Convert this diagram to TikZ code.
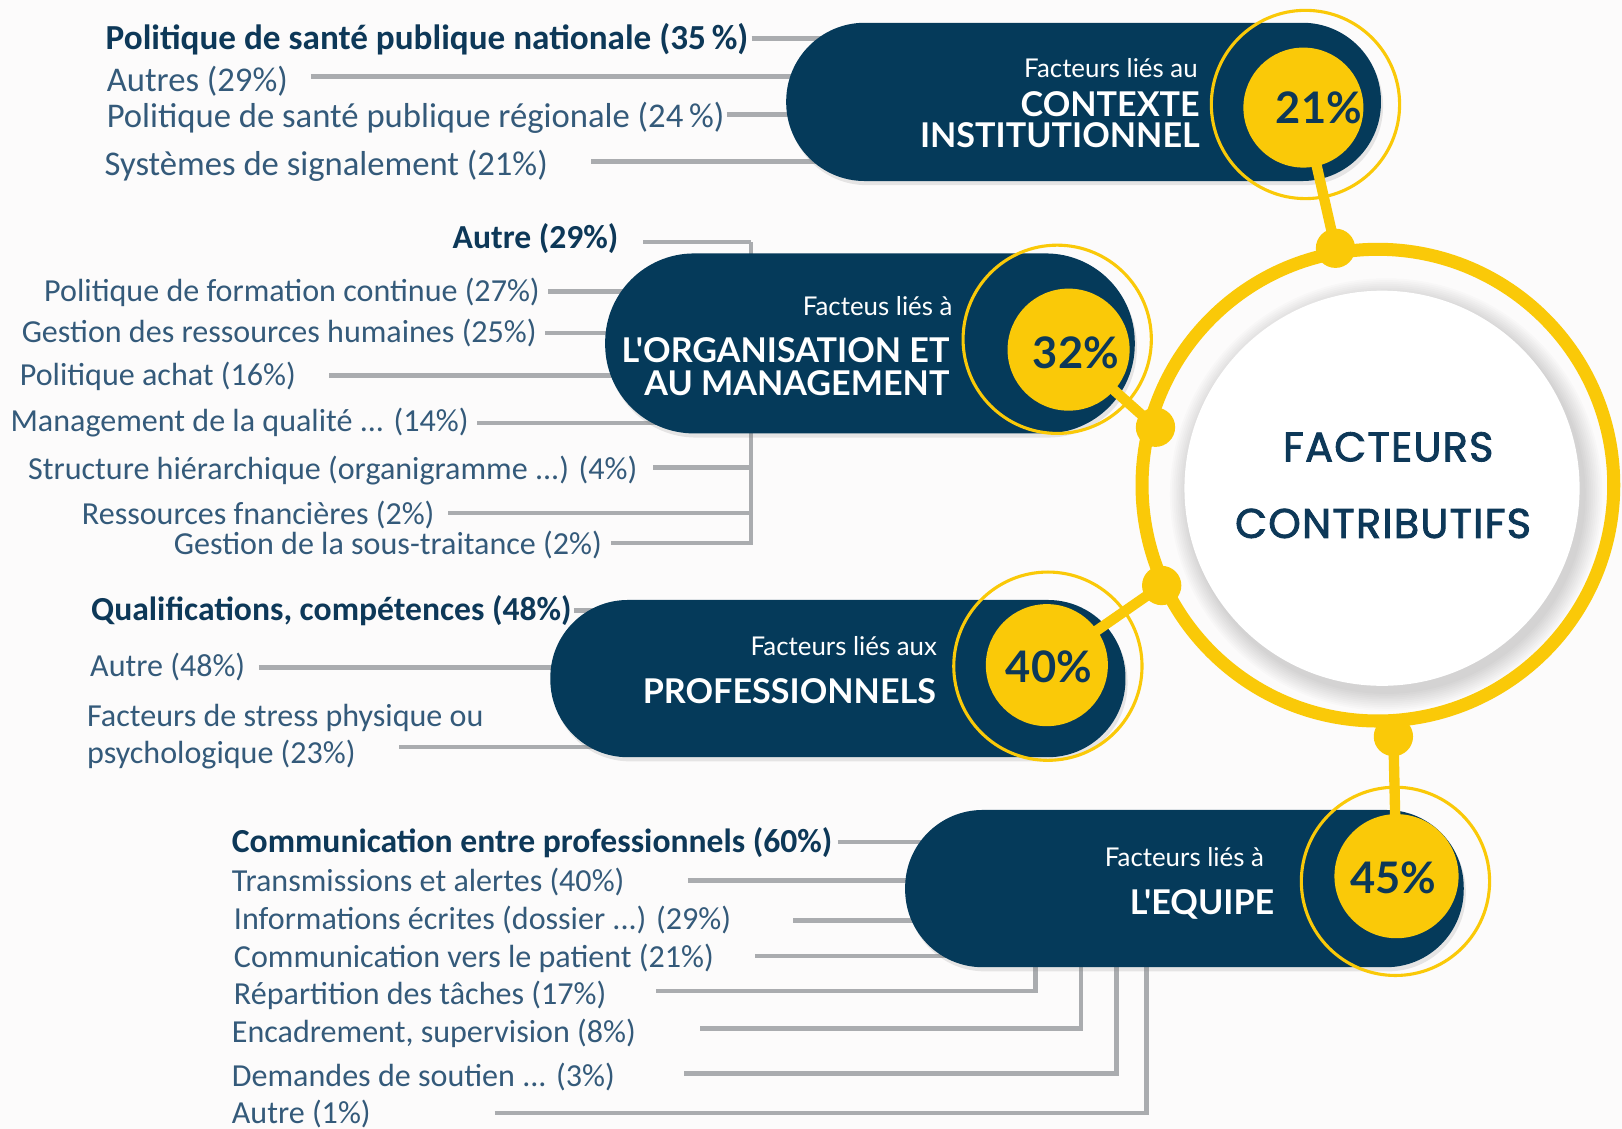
\documentclass[tikz,border=0pt]{standalone}
\usepackage{fontspec}
\setmainfont{Carlito}
\newfontfamily\latof{Lato}
\newfontfamily\popf{Poppins}[FakeBold=2, LetterSpace=3]
\usetikzlibrary{shadows,calc}
\definecolor{navy}{RGB}{5,58,90}
\definecolor{ink}{RGB}{13,56,88}
\definecolor{slate}{RGB}{52,90,122}
\definecolor{gold}{RGB}{250,201,8}
\definecolor{leadgray}{RGB}{170,172,175}
\definecolor{bgc}{RGB}{252,251,251}
\pgfdeclarelayer{bgl}
\pgfdeclarelayer{back}
\pgfdeclarelayer{conn}
\pgfdeclarelayer{front}
\pgfsetlayers{bgl,back,main,conn,front}
\begin{document}
\begin{tikzpicture}[x=1pt,y=-1pt,
  item/.style={font=\fontsize{31}{34}\selectfont, text=slate, inner sep=0pt, text height=0.72em, text depth=0.22em},
  itemb/.style={item, font=\fontsize{32.5}{34}\selectfont\bfseries, text=ink},
  itemg/.style={item, font=\fontsize{33.5}{36}\selectfont},
  itemgb/.style={item, font=\fontsize{34}{36}\selectfont\bfseries, text=ink},
  lead/.style={draw=leadgray, line width=4.5pt},
  pill/.style={fill=navy, inner sep=0pt, drop shadow={opacity=0.18, shadow xshift=2pt, shadow yshift=-4pt}},
  pctc/.style={circle, fill=gold, inner sep=0pt},
  pctt/.style={font=\latof\bfseries\fontsize{42}{42}\selectfont, text=ink, inner sep=0pt},
  ringc/.style={circle, draw=gold, line width=3pt, minimum size=182pt, inner sep=0pt},
  dotc/.style={circle, fill=gold, minimum size=38pt, inner sep=0pt},
  connl/.style={draw=gold, line width=10pt, shorten <=-6pt, shorten >=-6pt},
  psmall/.style={font=\latof\fontsize{25}{28}\selectfont, text=white, inner sep=0pt},
  pbig/.style={font=\latof\bfseries\fontsize{33}{33}\selectfont, text=white, inner sep=0pt, align=right},
  centt/.style={font=\popf\fontsize{40}{40}\selectfont, text=ink, inner sep=0pt}
]
\useasboundingbox (0,0) rectangle (1568,1091);
\begin{pgfonlayer}{bgl}
\fill[bgc] (0,0) rectangle (1568,1091);
\end{pgfonlayer}

% ---------- pills ----------
\node[pill, minimum width=575pt, minimum height=153pt, rounded corners=76pt] (p1) at (1047.5,98.5) {};
\node[pill, minimum width=512pt, minimum height=174pt, rounded corners=86pt] (p2) at (841,332) {};
\node[pill, minimum width=556pt, minimum height=152pt, rounded corners=75pt] (p3) at (810,656) {};
\node[pill, minimum width=540pt, minimum height=152pt, rounded corners=75pt] (p4) at (1145,859) {};

% ---------- central circle ----------
\foreach \k in {1,...,10} {
  \fill[black, opacity=0.015] (1340,478) circle[radius={191pt+1.8pt*\k}];
}
\draw[gold, line width=12.6pt] (1332,469) circle[radius=228pt];
\node[circle, fill=white, minimum size=382pt, inner sep=0pt] (cc) at (1336,472) {};
\node[centt] (ct1) at (1342,432) {FACTEURS};
\node[centt] (ct2) at (1337,506) {CONTRIBUTIFS};

% ---------- pill texts ----------
\node[psmall, anchor=east] (p1s) at (1158,66) {Facteurs liés au};
\node[pbig, anchor=north east] (p1b) at (1160,88) {CONTEXTE\\[-3pt]INSTITUTIONNEL};
\node[psmall, anchor=east] (p2s) at (921,296) {Facteus liés à};
\node[pbig, anchor=north east] (p2b) at (918,326) {L'ORGANISATION ET\\[-1pt]AU MANAGEMENT};
\node[psmall, anchor=east] (p3s) at (906,625) {Facteurs liés aux};
\node[pbig, anchor=east] (p3b) at (905,668) {PROFESSIONNELS};
\node[psmall, anchor=east] (p4s) at (1222,829) {Facteurs liés à};
\node[pbig, anchor=east] (p4b) at (1232,874) {L'EQUIPE};

% ---------- percentage circles ----------
\begin{pgfonlayer}{front}
\node[pctc, minimum size=116pt] (c1) at (1260,104) {};
\node[pctc, minimum size=118pt] (c2) at (1033,338) {};
\node[pctc, minimum size=118pt] (c3) at (1012,643) {};
\node[pctc, minimum size=120pt] (c4) at (1350,847) {};
\node[ringc] (r1) at (1262,101) {};
\node[ringc] (r2) at (1022,328) {};
\node[ringc] (r3) at (1013,644) {};
\node[ringc] (r4) at (1349,852) {};
\node[pctt] (t1) at (1275,104) {21\%};
\node[pctt] (t2) at (1040,341) {32\%};
\node[pctt] (t3) at (1014,645) {40\%};
\node[pctt] (t4) at (1347,849) {45\%};
\node[dotc] (d1) at (1291,240) {};
\node[dotc] (d2) at (1117,413) {};
\node[dotc] (d3) at (1123,566) {};
\node[dotc] (d4) at (1347,712) {};
\end{pgfonlayer}

\begin{pgfonlayer}{conn}
\draw[connl] (c1) -- (d1);
\draw[connl] (c2) -- (d2);
\draw[connl] (c3) -- (d3);
\draw[connl] (d4) -- (c4);
\end{pgfonlayer}

% ---------- group 1 ----------
\node[itemgb, anchor=base west] (g1a) at (102,48) {Politique de santé publique nationale (35\,\%)};
\node[itemg, anchor=base west] (g1b) at (103,88) {Autres (29\%)};
\node[itemg, anchor=base west] (g1c) at (103,123) {Politique de santé publique régionale (24\,\%)};
\node[itemg, anchor=base west] (g1d) at (101,170) {Systèmes de signalement (21\%)};

% ---------- group 2 ----------
\node[itemb, anchor=base east] (g2a) at (598,240) {Autre (29\%)};
\node[item, anchor=base east] (g2b) at (522,291) {Politique de formation continue (27\%)};
\node[item, anchor=base east] (g2c) at (519,331) {Gestion des ressources humaines (25\%)};
\node[item, anchor=base west] (g2d) at (19,373) {Politique achat (16\%)};
\node[item, anchor=base west] (g2e) at (10,417) {Management de la qualité ... (14\%)};
\node[item, anchor=base west] (g2f) at (27,464) {Structure hiérarchique (organigramme ...) (4\%)};
\node[item, anchor=base west] (g2g) at (79,507) {Ressources fnancières (2\%)};
\node[item, anchor=base west] (g2h) at (168,536) {Gestion de la sous-traitance (2\%)};
\coordinate (v2top) at (726,234);
\coordinate (v2bot) at (726,527);

% ---------- group 3 ----------
\node[itemb, anchor=base west] (g3a) at (88,600) {Qualifications, compétences (48\%)};
\node[item, anchor=base west] (g3b) at (87,654) {Autre (48\%)};
\node[item, anchor=base west] (g3c) at (84,702) {Facteurs de stress physique ou};
\node[item, anchor=base west] (g3d) at (84,738) {psychologique (23\%)};

% ---------- group 4 ----------
\node[itemb, anchor=base west] (g4a) at (224,824) {Communication entre professionnels (60\%)};
\node[item, anchor=base west] (g4b) at (224,862) {Transmissions et alertes (40\%)};
\node[item, anchor=base west] (g4c) at (226,899) {Informations écrites (dossier ...) (29\%)};
\node[item, anchor=base west] (g4d) at (226,935) {Communication vers le patient (21\%)};
\node[item, anchor=base west] (g4e) at (226,971) {Répartition des tâches (17\%)};
\node[item, anchor=base west] (g4f) at (224,1008) {Encadrement, supervision (8\%)};
\node[item, anchor=base west] (g4g) at (224,1050) {Demandes de soutien ... (3\%)};
\node[item, anchor=base west] (g4h) at (224,1086) {Autre (1\%)};
\coordinate (e1) at (1001,900);
\coordinate (e2) at (1045,900);
\coordinate (e3) at (1079,900);
\coordinate (e4) at (1108,900);

% ---------- leader lines ----------
\begin{pgfonlayer}{back}
\draw[lead] ([xshift=3pt,yshift=11pt]g1a.base east) -- ([yshift=11pt]g1a.base east -| p1.center);
\draw[lead] ([xshift=22pt,yshift=14pt]g1b.base east) -- ([yshift=14pt]g1b.base east -| p1.center);
\draw[lead] ([xshift=2pt,yshift=12pt]g1c.base east) -- ([yshift=12pt]g1c.base east -| p1.center);
\draw[lead] ([xshift=42pt,yshift=14pt]g1d.base east) -- ([yshift=14pt]g1d.base east -| p1.center);

\draw[lead] ([xshift=24pt,yshift=6pt]g2a.base east) -- ([yshift=6pt]g2a.base east -| v2top);
\draw[lead] (v2top) -- (v2bot);
\draw[lead] ([xshift=8pt,yshift=9pt]g2b.base east) -- ([yshift=9pt]g2b.base east -| v2top);
\draw[lead] ([xshift=8pt,yshift=9pt]g2c.base east) -- ([yshift=9pt]g2c.base east -| v2top);
\draw[lead] ([xshift=32pt,yshift=10pt]g2d.base east) -- ([yshift=10pt]g2d.base east -| v2top);
\draw[lead] ([xshift=8pt,yshift=8pt]g2e.base east) -- ([yshift=8pt]g2e.base east -| v2top);
\draw[lead] ([xshift=15pt,yshift=12pt]g2f.base east) -- ([yshift=12pt]g2f.base east -| v2top);
\draw[lead] ([xshift=13pt,yshift=11pt]g2g.base east) -- ([yshift=11pt]g2g.base east -| v2top);
\draw[lead] ([xshift=9pt,yshift=11pt]g2h.base east) -- ([yshift=11pt]g2h.base east -| v2top);

\draw[lead] ([xshift=2pt,yshift=10pt]g3a.base east) -- ([yshift=10pt]g3a.base east -| p3.center);
\draw[lead] ([xshift=13pt,yshift=9pt]g3b.base east) -- ([yshift=9pt]g3b.base east -| p3.center);
\draw[lead] ([xshift=42pt,yshift=16pt]g3d.base east) -- ([yshift=16pt]g3d.base east -| p3.center);

\draw[lead] ([xshift=5pt,yshift=10pt]g4a.base east) -- ([yshift=10pt]g4a.base east -| p4.center);
\draw[lead] ([xshift=61pt,yshift=11pt]g4b.base east) -- ([yshift=11pt]g4b.base east -| p4.center);
\draw[lead] ([xshift=60pt,yshift=9pt]g4c.base east) -- ([yshift=9pt]g4c.base east -| p4.center);
\draw[lead] ([xshift=40pt,yshift=11pt]g4d.base east) -- ([yshift=11pt]g4d.base east -| p4.center);
\draw[lead] ([xshift=48pt,yshift=13pt]g4e.base east) -| (e1);
\draw[lead] ([xshift=62pt,yshift=14pt]g4f.base east) -| (e2);
\draw[lead] ([xshift=67pt,yshift=12pt]g4g.base east) -| (e3);
\draw[lead] ([xshift=120pt,yshift=10pt]g4h.base east) -| (e4);
\end{pgfonlayer}
\end{tikzpicture}
\end{document}
